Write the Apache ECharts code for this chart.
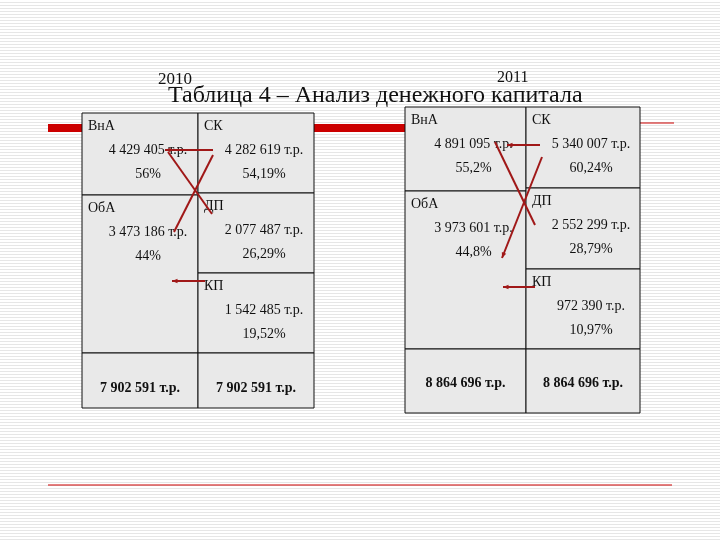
<!DOCTYPE html>
<html><head><meta charset="utf-8">
<script src="https://cdn.jsdelivr.net/npm/echarts@6/dist/echarts.min.js"></script>
<style>
html,body{margin:0;padding:0;}
#c{width:720px;height:540px;background:repeating-linear-gradient(180deg,#ffffff 0px,#ffffff 2px,#e6e6e6 2px,#e6e6e6 3px);}
</style></head><body><div id="c"></div>
<script>
const title = 'Таблица 4 – Анализ денежного капитала';
const years = ['2010', '2011'];
const names = ['ВнА', 'ОбА', 'СК', 'ДП', 'КП'];
const values2010 = ['4 429 405 т.р.', '3 473 186 т.р.', '4 282 619 т.р.', '2 077 487 т.р.', '1 542 485 т.р.'];
const shares2010 = ['56%', '44%', '54,19%', '26,29%', '19,52%'];
const totals2010 = ['7 902 591 т.р.', '7 902 591 т.р.'];
const values2011 = ['4 891 095 т.р.', '3 973 601 т.р.', '5 340 007 т.р.', '2 552 299 т.р.', '972 390 т.р.'];
const shares2011 = ['55,2%', '44,8%', '60,24%', '28,79%', '10,97%'];
const totals2011 = ['8 864 696 т.р.', '8 864 696 т.р.'];

const F = '"Liberation Serif","DejaVu Serif",serif';
const g = [];
function rect(x1,y1,x2,y2){g.push({type:'rect',shape:{x:x1,y:y1,width:x2-x1,height:y2-y1},style:{fill:'#e9e9e9',stroke:'#111',lineWidth:1}});}
function txt(x,y,t,opt){g.push({type:'text',x:x,y:y,style:Object.assign({text:t,font:'14px '+F,fill:'#111',textAlign:'left',textVerticalAlign:'middle'},opt||{})});}
function line(x1,y1,x2,y2,w,c){g.push({type:'line',shape:{x1,y1,x2,y2},style:{stroke:c||'#b01010',lineWidth:w||1.5}});}
function arrow(x1,y1,x2,y2){line(x1,y1,x2,y2,2,'#a01818');const a=Math.atan2(y2-y1,x2-x1),L=6;
 g.push({type:'polygon',shape:{points:[[x2,y2],[x2-L*Math.cos(a-0.4),y2-L*Math.sin(a-0.4)],[x2-L*Math.cos(a+0.4),y2-L*Math.sin(a+0.4)]]},style:{fill:'#a01818'}});}

line(48,128,82,128,8,'#cc0000');
line(314,128,405,128,8,'#cc0000');
line(640,123,674,123,1,'#cc0000');
line(48,485,672,485,1,'#cc0000');

function table(L,M,R,T,rL,rR,B,vals,shares,totals,dy){
 rect(L,T,M,rL);rect(L,rL,M,rR[2]);rect(M,T,R,rR[0]);rect(M,rR[0],R,rR[1]);rect(M,rR[1],R,rR[2]);
 rect(L,rR[2],M,B);rect(M,rR[2],R,B);
 const cells=[[L,T],[L,rL],[M,T],[M,rR[0]],[M,rR[1]]];
 cells.forEach((c,i)=>{const cx=(i<2?(L+M)/2:(M+R)/2)+8;
  txt(c[0]+6,c[1]+13,names[i]);
  txt(cx,c[1]+37,vals[i],{textAlign:'center'});
  txt(cx,c[1]+61,shares[i],{textAlign:'center'});});
 const by=(rR[2]+B)/2+dy;
 txt((L+M)/2,by,totals[0],{textAlign:'center',font:'bold 14px '+F});
 txt((M+R)/2,by,totals[1],{textAlign:'center',font:'bold 14px '+F});
}
table(82,198,314,113,195,[193,273,353],408,values2010,shares2010,totals2010,8);
table(405,526,640,107,191,[188,269,349],413,values2011,shares2011,totals2011,2);

txt(158,80,years[0],{font:'17px '+F});
txt(497,78,years[1],{font:'16px '+F});
txt(168,96,title,{font:'24px '+F});

arrow(213,150,165,150);
line(213,155,174,232,2,'#a01818');
line(168,152,212,214,2,'#a01818');
arrow(205,281,172,281);
arrow(540,145,507,145);
arrow(542,157,502,258);
line(495,142,535,225,2,'#a01818');
arrow(535,287,503,287);

const chart=echarts.init(document.getElementById('c'));
chart.setOption({backgroundColor:'transparent',graphic:{elements:g}});
</script></body></html>
